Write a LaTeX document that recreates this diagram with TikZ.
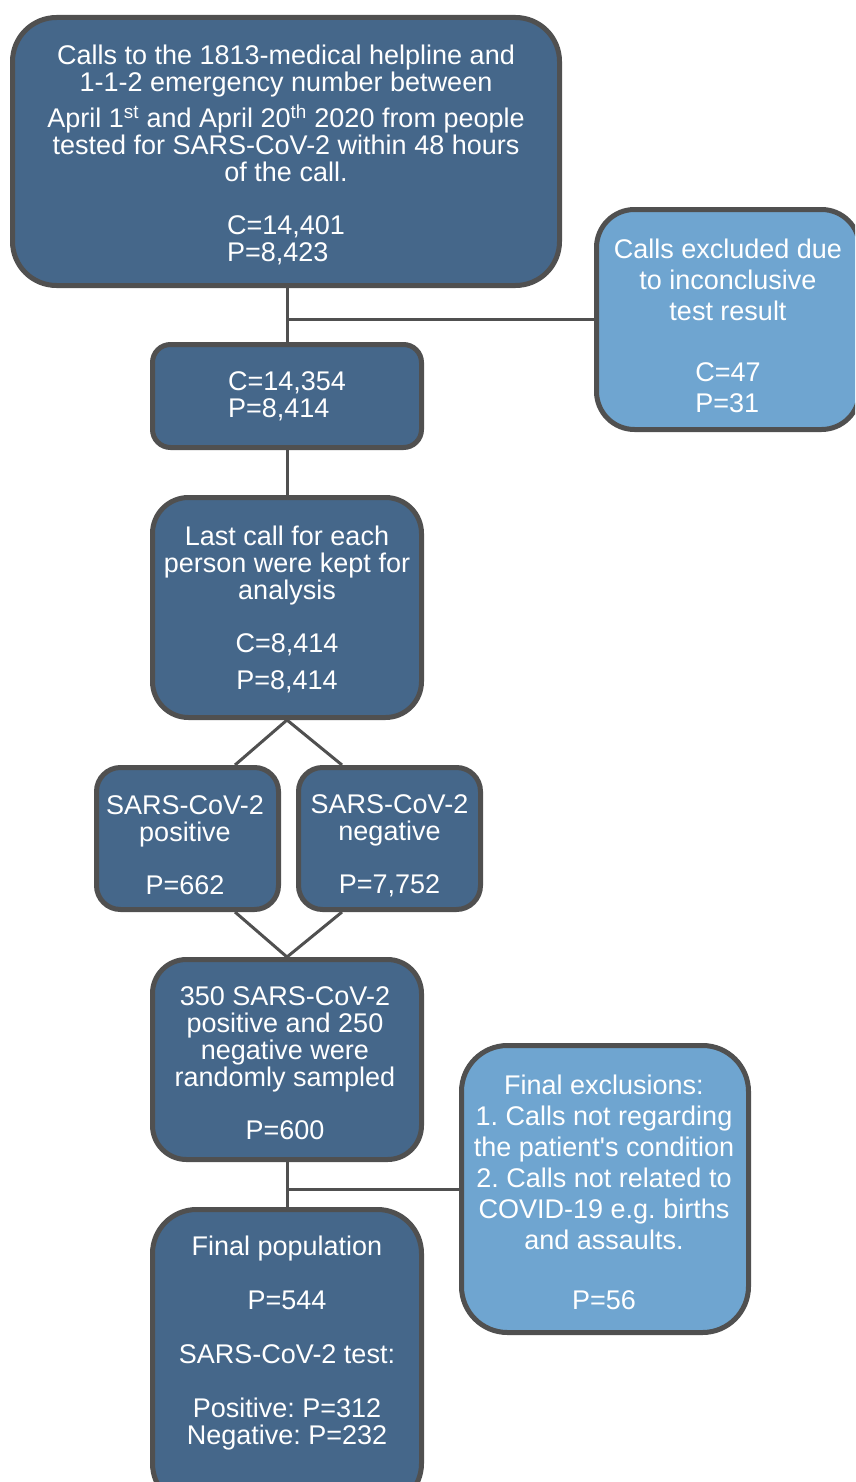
\documentclass[tikz,border=0pt]{standalone}
\usepackage{fontspec}
\setmainfont{Liberation Sans}
\definecolor{darkfill}{HTML}{45678A}
\definecolor{lightfill}{HTML}{6FA5D0}
\definecolor{edgegray}{HTML}{505050}
\newcommand{\darkfont}{\fontsize{27}{27}\selectfont\lineskiplimit=-50pt\relax\frenchspacing}
\newcommand{\lightfont}{\fontsize{27}{31}\selectfont\lineskiplimit=-50pt\relax\frenchspacing}
\tikzset{
  box/.style={draw=edgegray, line width=5pt, fill=darkfill, inner sep=0pt},
  lbox/.style={box, fill=lightfill},
  txt/.style={text=white, align=center, inner sep=0pt, font=\darkfont},
  ltxt/.style={txt, font=\lightfont},
  conn/.style={draw=edgegray, line width=3pt},
}
\newcommand{\lpair}[2]{\vtop{\halign{##\hfil\cr#1\cr#2\cr}}}
\begin{document}
\begin{tikzpicture}[x=1pt, y=-1pt]
\useasboundingbox (0,0) rectangle (855,1482);
\clip (0,0) rectangle (855,1482);

% boxes
\node[box, minimum width=547pt, minimum height=268pt, rounded corners=44pt] (top) at (286,151.5) {};
\node[lbox, minimum width=263pt, minimum height=220pt, rounded corners=38pt] (excl1) at (728,319.5) {};
\node[box, minimum width=269pt, minimum height=103pt, rounded corners=18pt] (c1) at (287,396) {};
\node[box, minimum width=269pt, minimum height=220pt, rounded corners=36pt] (last) at (287,607.5) {};
\node[box, minimum width=182pt, minimum height=142pt, rounded corners=24pt] (pos) at (187.5,838.5) {};
\node[box, minimum width=182pt, minimum height=142pt, rounded corners=24pt] (neg) at (389.5,838.5) {};
\node[box, minimum width=269pt, minimum height=200pt, rounded corners=34pt] (samp) at (287,1059.5) {};
\node[lbox, minimum width=287pt, minimum height=287pt, rounded corners=46pt] (excl2) at (605,1189) {};
\node[box, minimum width=269pt, minimum height=298pt, rounded corners=44pt] (fpop) at (287,1358.5) {};

% texts
\node[txt] (toptext) at (286,155)
  {Calls to the 1813-medical helpline and\\
   1-1-2 emergency number between\\[9pt]
   April 1\textsuperscript{st} and April 20\textsuperscript{th} 2020 from people\\
   tested for SARS-CoV-2 within 48 hours\\
   of the call.\\[26pt]
   \lpair{C=14,401}{P=8,423}};
\node[ltxt] (excl1text) at (728,326)
  {Calls excluded due\\to inconclusive\\test result\\[30pt]\lpair{C=47}{P=31}};
\node[txt] (c1text) at (287,396.5) {\lpair{C=14,354}{P=8,414}};
\node[txt] (lasttext) at (287,609.5)
  {Last call for each\\person were kept for\\analysis\\[26pt]C=8,414\\[10pt]P=8,414};
\node[txt] (postext) at (185,845.5) {SARS-CoV-2\\positive\\[26pt]P=662};
\node[txt] (negtext) at (389.5,845.5) {SARS-CoV-2\\negative\\[26pt]P=7,752};
\node[txt] (samptext) at (285,1063.5)
  {350 SARS-CoV-2\\positive and 250\\negative were\\randomly sampled\\[26pt]P=600};
\node[ltxt] (excl2text) at (604,1192)
  {Final exclusions:\\1. Calls not regarding\\the patient\textquotesingle s condition\\2. Calls not related to\\COVID-19 e.g. births\\and assaults.\\[29pt]P=56};
\node[txt] (fpoptext) at (287,1343)
  {Final population\\[27pt]P=544\\[27pt]SARS-CoV-2 test:\\[27pt]Positive: P=312\\Negative: P=232};

% connectors
\coordinate (j1) at (c1.north |- excl1.west);
\coordinate (j2) at (samp.south |- excl2.west);
\draw[conn] (c1.north |- top.south) -- (c1.north);
\draw[conn] (j1) -- (excl1.west);
\draw[conn] (c1.south) -- (last.north);
\draw[conn] (last.south) -- ([xshift=47.5pt]pos.north);
\draw[conn] (last.south) -- ([xshift=-47.5pt]neg.north);
\draw[conn] ([xshift=47.5pt]pos.south) -- (samp.north);
\draw[conn] ([xshift=-47.5pt]neg.south) -- (samp.north);
\draw[conn] (samp.south) -- (fpop.north);
\draw[conn] (j2) -- (excl2.west);
\end{tikzpicture}
\end{document}
